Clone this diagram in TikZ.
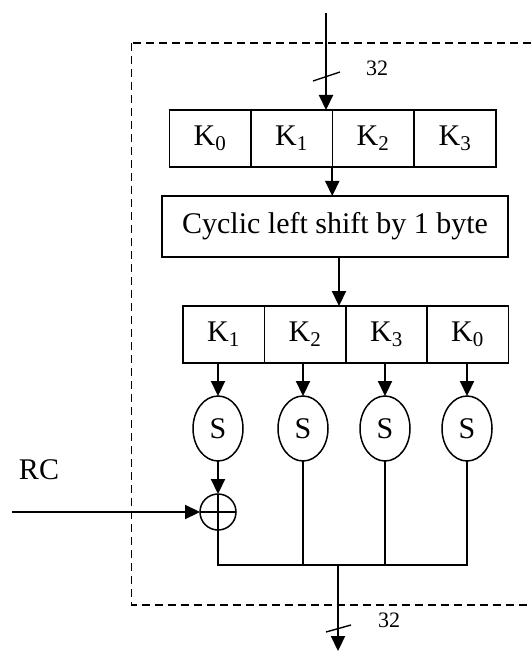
\documentclass[tikz,border=0pt]{standalone}
\usepackage{fontspec}
\setmainfont{Liberation Serif}
\usetikzlibrary{arrows.meta,shapes.geometric}
\begin{document}
\begin{tikzpicture}[x=1pt,y=-1pt,
  bigfont/.style={font=\fontsize{30}{36}\selectfont},
  box/.style={draw,line width=1.5pt,rectangle,minimum width=81.5pt,minimum height=57pt,inner sep=0pt,outer sep=0pt,bigfont},
  sbox/.style={draw,line width=1.5pt,ellipse,minimum width=50pt,minimum height=65pt,inner sep=0pt,outer sep=0pt,bigfont},
  arr/.style={line width=2.2pt,-{Triangle[length=15pt,width=14pt]}},
  wire/.style={line width=1.6pt},
  framebox/.style={line width=1.4pt,dash pattern=on 8pt off 5pt},
  widthlabel/.style={font=\fontsize{22}{26}\selectfont,inner sep=0pt}
]
\useasboundingbox (0,0) rectangle (531,652);
\clip (0,0) rectangle (531,652);

% dashed frame
\draw[framebox] (131.5,43) rectangle (575,605);

% top register
\node[box] (a0) at (210,138.5) {K\textsubscript{0}};
\node[box] (a1) at (291.5,138.5) {K\textsubscript{1}};
\node[box] (a2) at (373,138.5) {K\textsubscript{2}};
\node[box] (a3) at (455,138.5) {K\textsubscript{3}};

% shift box
\node[draw,line width=1.5pt,minimum width=346pt,minimum height=61pt,inner sep=0pt,outer sep=0pt,bigfont] (sh) at (335,226.5) {Cyclic left shift by 1 byte};

% lower register
\node[box] (b0) at (223.5,334.5) {K\textsubscript{1}};
\node[box] (b1) at (305,334.5) {K\textsubscript{2}};
\node[box] (b2) at (386.5,334.5) {K\textsubscript{3}};
\node[box] (b3) at (467.5,334.5) {K\textsubscript{0}};

% S-boxes
\node[sbox] (s0) at (218,428.5) {S};
\node[sbox] (s1) at (303,428.5) {S};
\node[sbox] (s2) at (385,428.5) {S};
\node[sbox] (s3) at (467,428.5) {S};

% XOR
\node[circle,draw,line width=1.5pt,minimum size=36pt,inner sep=0pt,outer sep=0pt] (xr) at (218,512) {};
\draw[line width=1.5pt] (xr.north) -- (xr.south) (xr.west) -- (xr.east);

% labels
\node[widthlabel] (w1) at (377,68) {32};
\node[widthlabel] (w2) at (389,620) {32};
\node[bigfont,inner sep=0pt] (rc) at (39,470) {RC};

% connectors
\coordinate (in) at (326,13);
\draw[arr] (in) -- (in |- a1.north);
\draw[arr] (a1.south east) -- (a1.south east |- sh.north);
\draw[arr] ([xshift=4pt]sh.south) -- ([xshift=4pt]sh.south |- b1.north);
\foreach \i in {0,1,2,3} {
  \draw[arr] (s\i.north |- b\i.south) -- (s\i.north);
}
\draw[arr] (s0.south) -- (xr.north);
\coordinate (rcin) at (12,512);
\draw[arr] (rcin) -- (xr.west);

\coordinate (bus) at (338,565);
\draw[wire] (xr.south) |- (s3.south |- bus) -- (s3.south);
\draw[wire] (s1.south) -- (s1.south |- bus);
\draw[wire] (s2.south) -- (s2.south |- bus);
\coordinate (out) at (338,651);
\draw[arr] (bus) -- (out);

% bus-width slashes
\coordinate (t1) at (313,81);
\coordinate (t2) at (340,72);
\draw[line width=1.4pt] (t1) -- (t2);
\coordinate (u1) at (326,632);
\coordinate (u2) at (351,625);
\draw[line width=1.4pt] (u1) -- (u2);
\end{tikzpicture}
\end{document}
